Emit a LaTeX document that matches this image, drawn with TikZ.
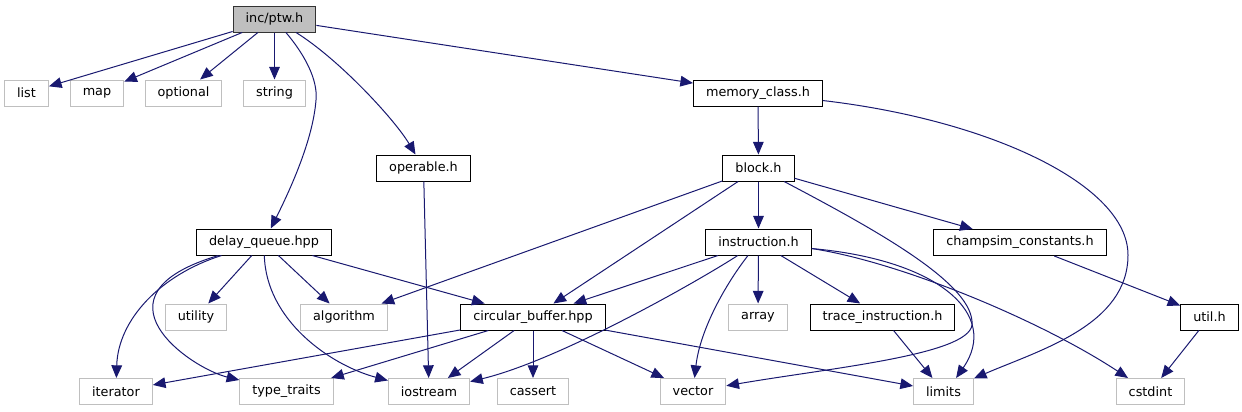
\documentclass[tikz,border=0pt]{standalone}
\usepackage{fontspec}
\setmainfont{DejaVu Sans}
\usetikzlibrary{arrows.meta}
\definecolor{edgeblue}{HTML}{191970}

\begin{document}
\begin{tikzpicture}[
    x=0.75pt, y=-0.75pt,
    file/.style={draw, rectangle, line width=0.75pt, fill=white, font=\fontsize{9.6}{11}\selectfont,
      minimum height=19.5pt, inner xsep=9.4pt, inner ysep=0pt},
    proj/.style={file, draw=black},
    sys/.style={file, draw=black!25},
    root/.style={file, draw=black!80, fill=black!25},
    edge/.style={->, draw=edgeblue, line width=0.75pt},
    >={Triangle[length=9.5pt,width=8pt]}
  ]
  \useasboundingbox (0,0) rectangle (1242,411);

  % top rows
  \node[root] (ptw) at (274.5,19) {inc/ptw.h};
  \node[sys] (list) at (26.5,93) {list};
  \node[sys] (map) at (97,93) {map};
  \node[sys] (optional) at (183.5,93) {optional};
  \node[sys] (string) at (274.5,93) {string};
  \node[proj] (memclass) at (758,93) {memory\_class.h};
  \node[proj] (operable) at (423.5,168) {operable.h};
  \node[proj] (block) at (758.5,168) {block.h};
  \node[proj] (delayq) at (264,242) {delay\_queue.hpp};
  \node[proj] (instr) at (758.5,242) {instruction.h};
  \node[proj] (constants) at (1020,242.5) {champsim\_constants.h};

  % lower rows
  \node[sys] (utility) at (196,317) {utility};
  \node[sys] (algorithm) at (344,317) {algorithm};
  \node[proj] (circbuf) at (533,317) {circular\_buffer.hpp};
  \node[sys] (array) at (758,317) {array};
  \node[proj] (traceinstr) at (882.5,317) {trace\_instruction.h};
  \node[proj] (utilh) at (1209.5,317) {util.h};
  \node[sys] (iterator) at (116,391.5) {iterator};
  \node[sys] (typetraits) at (286.5,391.5) {type\_traits};
  \node[sys] (iostream) at (429,391.5) {iostream};
  \node[sys] (cassert) at (533,391.5) {cassert};
  \node[sys] (vector) at (693,391.5) {vector};
  \node[sys] (limits) at (943.5,391.5) {limits};
  \node[sys] (cstdint) at (1150.5,391.5) {cstdint};

  % includes of ptw.h
  \draw[edge] (ptw) -- (list);
  \draw[edge] (ptw) -- (map);
  \draw[edge] (ptw) -- (optional);
  \draw[edge] (ptw) -- (string);
  \draw[edge] (ptw) .. controls (340,60) and (395,120) .. (operable);
  \draw[edge] (ptw) .. controls (305,55) and (318,80) .. (316,100) .. controls (313,140) and (290,190) .. (delayq);
  \draw[edge] (ptw) -- (memclass);

  \draw[edge] (memclass) -- (block);
  \draw[edge] (memclass) .. controls (990,120) and (1128,185) .. (1128,255) .. controls (1128,325) and (1040,350) .. (limits);
  \draw[edge] (operable) -- (iostream);

  \draw[edge] (block) -- (algorithm);
  \draw[edge] (block) -- (circbuf);
  \draw[edge] (block) -- (instr);
  \draw[edge] (block) -- (constants);
  \draw[edge] (block) .. controls (880,232) and (975,285) .. (972,325) .. controls (968,355) and (830,368) .. (vector);

  \draw[edge] (delayq) .. controls (160,275) and (118,320) .. (iterator);
  \draw[edge] (delayq) .. controls (85,295) and (190,368) .. (typetraits);
  \draw[edge] (delayq) -- (utility);
  \draw[edge] (delayq) -- (algorithm);
  \draw[edge] (delayq) .. controls (266,320) and (330,365) .. (iostream);
  \draw[edge] (delayq) -- (circbuf);

  \draw[edge] (instr) -- (circbuf);
  \draw[edge] (instr) .. controls (700,280) and (560,360) .. (iostream);
  \draw[edge] (instr) .. controls (725,285) and (700,330) .. (vector);
  \draw[edge] (instr) -- (array);
  \draw[edge] (instr) -- (traceinstr);
  \draw[edge] (instr.-7) .. controls (940,260) and (1000,315) .. (limits.47);
  \draw[edge] (instr.-7) .. controls (900,262) and (1040,320) .. (cstdint.149);

  \draw[edge] (constants) -- (utilh);
  \draw[edge] (utilh) -- (cstdint);
  \draw[edge] (traceinstr) -- (limits);

  % includes of circular_buffer.hpp
  \draw[edge] (circbuf) -- (iterator);
  \draw[edge] (circbuf) -- (typetraits);
  \draw[edge] (circbuf) -- (iostream);
  \draw[edge] (circbuf) -- (cassert);
  \draw[edge] (circbuf) -- (vector);
  \draw[edge] (circbuf) -- (limits);
\end{tikzpicture}
\end{document}
